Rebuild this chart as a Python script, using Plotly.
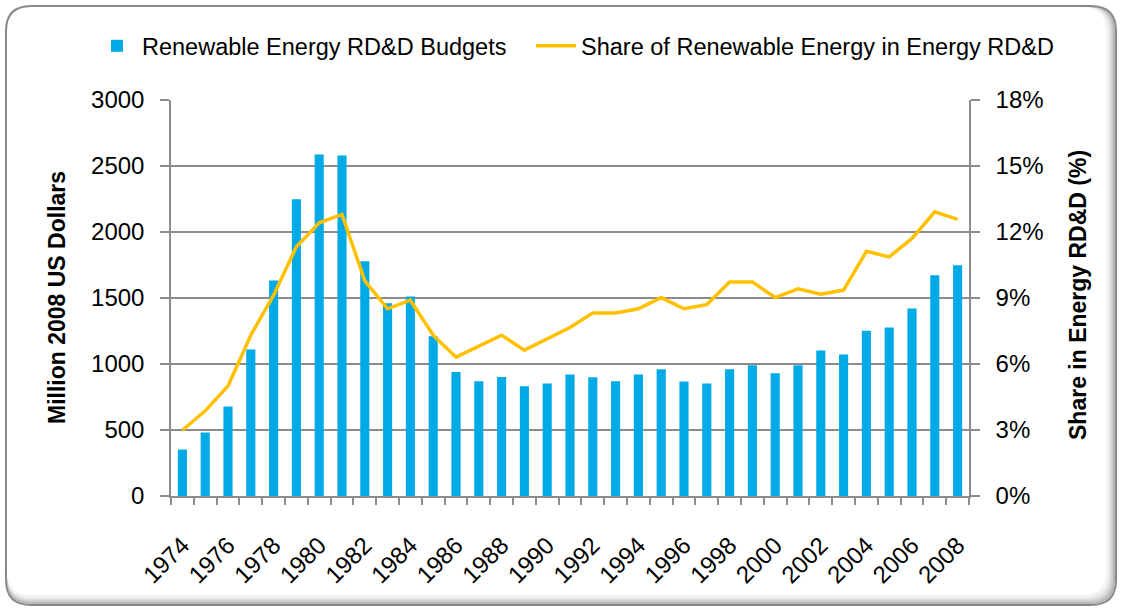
import plotly.graph_objects as go

years = list(range(1974, 2009))
budgets = [352, 481, 678, 1110, 1633, 2249, 2588, 2580, 1779, 1461, 1511, 1211,
           940, 869, 902, 831, 852, 920, 900, 869, 920, 960, 867, 852, 960, 991,
           930, 991, 1102, 1072, 1251, 1276, 1420, 1673, 1749]
share = [2.99, 3.87, 5.0, 7.31, 9.13, 11.33, 12.42, 12.8, 9.78, 8.51, 8.9, 7.31,
         6.31, 6.81, 7.31, 6.63, 7.16, 7.66, 8.32, 8.32, 8.51, 9.02, 8.51, 8.7,
         9.73, 9.73, 9.02, 9.42, 9.17, 9.36, 11.12, 10.87, 11.71, 12.92, 12.57]
share_frac = [s / 100 for s in share]
xtick_labels = [str(y) for y in range(1974, 2009, 2)]

W, H = 1121, 608
L, R, T, B = 171, 152, 100, 112
PW, PH = W - L - R, H - T - B

def px(x):
    return (x - L) / PW

def py(y):
    return (H - B - y) / PH

def rrect(x0, y0, x1, y1, r):
    pts = [
        ("M", [(x0 + r, y0)]), ("L", [(x1 - r, y0)]), ("Q", [(x1, y0), (x1, y0 + r)]),
        ("L", [(x1, y1 - r)]), ("Q", [(x1, y1), (x1 - r, y1)]), ("L", [(x0 + r, y1)]),
        ("Q", [(x0, y1), (x0, y1 - r)]), ("L", [(x0, y0 + r)]), ("Q", [(x0, y0), (x0 + r, y0)]),
    ]
    s = ""
    for cmd, ps in pts:
        s += cmd + " " + " ".join(f"{px(a):.5f},{py(b):.5f}" for a, b in ps) + " "
    return s + "Z"

FONT = "Liberation Sans, Arial, sans-serif"
GRID = "#8c8c8c"
NBSP = "\u00a0"

fig = go.Figure()
fig.add_trace(go.Bar(x=years, y=budgets, name="Renewable Energy RD&D Budgets" + NBSP * 3,
                     marker=dict(color="#00AAE6", line=dict(width=0)), width=0.4))
fig.add_trace(go.Scatter(x=years, y=share_frac, name="Share of Renewable Energy in Energy RD&D",
                         mode="lines", line=dict(color="#FFC000", width=3.5), yaxis="y2"))

shapes = []
# frame with inner shadow on right/bottom
shadow_cols = ["#b4b4b4", "#c8c8c8", "#dadada", "#e8e8e8", "#f3f3f3"]
for i, c in enumerate(shadow_cols):
    shapes.append(dict(type="path", xref="paper", yref="paper", layer="below",
                       path=rrect(7, 7, 1115 - i * 1.6, 604 - i * 1.6, 24),
                       fillcolor=c, line=dict(width=0)))
shapes.append(dict(type="path", xref="paper", yref="paper", layer="below",
                   path=rrect(7, 7, 1106, 595, 24), fillcolor="white", line=dict(width=0)))
shapes.append(dict(type="path", xref="paper", yref="paper", layer="below",
                   path=rrect(6, 6, 1116, 605, 25), fillcolor="rgba(0,0,0,0)",
                   line=dict(color="#8a8a8a", width=2)))

annotations = [
    dict(text="<b>Million 2008 US Dollars</b>", xref="paper", yref="paper",
         x=px(57), y=py(298), textangle=-90, showarrow=False,
         font=dict(family=FONT, size=23, color="black"), xanchor="center", yanchor="middle"),
    dict(text="<b>Share in Energy RD&D (%)</b>", xref="paper", yref="paper",
         x=px(1078), y=py(295), textangle=-90, showarrow=False,
         font=dict(family=FONT, size=23, color="black"), xanchor="center", yanchor="middle"),
]

fig.update_layout(
    width=W, height=H,
    margin=dict(l=L, r=R, t=T, b=B, pad=0),
    paper_bgcolor="white", plot_bgcolor="rgba(0,0,0,0)",
    font=dict(family=FONT, size=24, color="black"),
    showlegend=True,
    legend=dict(orientation="h", x=px(92), y=py(46), xanchor="left", yanchor="middle",
                font=dict(family=FONT, size=23.5, color="black"), bgcolor="rgba(0,0,0,0)",
                itemwidth=40, tracegroupgap=0),
    bargap=0.6,
    shapes=shapes,
    annotations=annotations,
    xaxis=dict(range=[1973.5, 2008.5], tickmode="array",
               tickvals=list(range(1974, 2009, 2)), ticktext=xtick_labels,
               tickangle=-45, ticks="", showgrid=False, zeroline=False,
               showline=True, linecolor=GRID, linewidth=1.5,
               ticklabelstandoff=24,
               tickfont=dict(family=FONT, size=24),
               minor=dict(ticks="outside", tick0=1973.5, dtick=1, ticklen=7,
                          tickcolor=GRID, tickwidth=1.5, showgrid=False)),
    yaxis=dict(range=[0, 3000], dtick=500, ticks="outside", ticklen=9,
               tickcolor=GRID, tickwidth=1.5, showline=True, linecolor=GRID,
               linewidth=1.5, showgrid=True, gridcolor=GRID, gridwidth=1.5,
               zeroline=False, ticklabelstandoff=11,
               tickfont=dict(family=FONT, size=24)),
    yaxis2=dict(range=[0, 0.18], dtick=0.03, tickformat=".0%", overlaying="y",
                side="right", ticks="outside", ticklen=9, tickcolor=GRID,
                tickwidth=1.5, showline=True, linecolor=GRID, linewidth=1.5,
                showgrid=False, zeroline=False, ticklabelstandoff=11,
                tickfont=dict(family=FONT, size=24)),
)

fig.write_html("out.html", config={"displayModeBar": False},
               post_script="document.body.style.margin='0';document.body.style.overflow='hidden';")
